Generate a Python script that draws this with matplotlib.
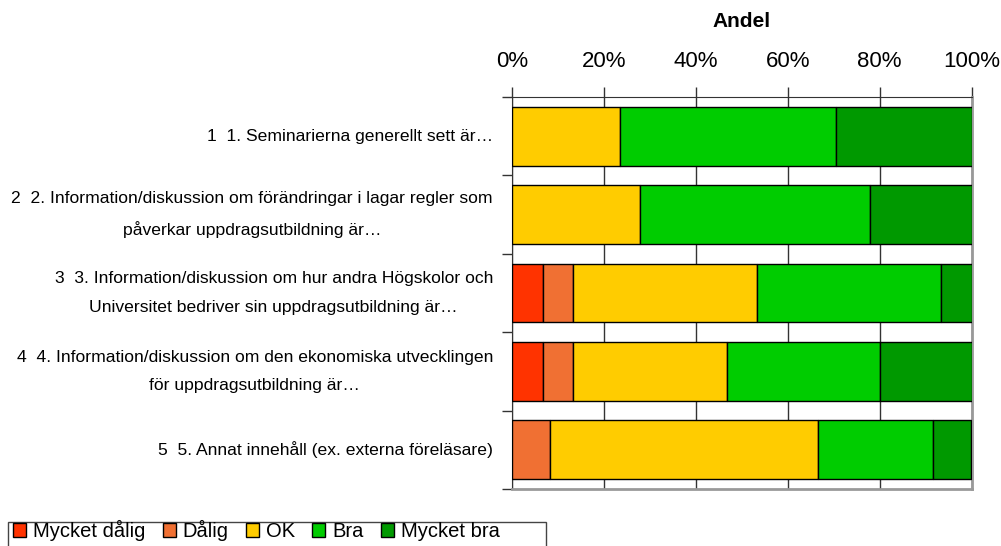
#!/usr/bin/env python3

import numpy as np
from matplotlib import pyplot as plt
from matplotlib.patches import Patch, Rectangle

# kategorier och andelar (i procent) per svarsalternativ
categories = [
    '1  1. Seminarierna generellt sett är…',
    '2  2. Information/diskussion om förändringar i lagar regler som\npåverkar uppdragsutbildning är…',
    '3  3. Information/diskussion om hur andra Högskolor och\nUniversitet bedriver sin uppdragsutbildning är…',
    '4  4. Information/diskussion om den ekonomiska utvecklingen\nför uppdragsutbildning är…',
    '5  5. Annat innehåll (ex. externa föreläsare)',
]
series_names = ['Mycket dålig', 'Dålig', 'OK', 'Bra', 'Mycket bra']
mycket_dalig = [0.0, 0.0, 6.7, 6.7, 0.0]
dalig = [0.0, 0.0, 6.7, 6.7, 8.3]
ok = [23.5, 27.8, 40.0, 33.3, 58.3]
bra = [47.1, 50.0, 40.0, 33.3, 25.0]
mycket_bra = [29.4, 22.2, 6.7, 20.0, 8.3]
colors = ['#FF3300', '#F07033', '#FFCC00', '#00CC00', '#009900']
xticks = [0, 20, 40, 60, 80, 100]
xticklabels = ['0%', '20%', '40%', '60%', '80%', '100%']


def main():
    fig = plt.figure(figsize=(10.01, 5.46), dpi=100)
    ax = fig.add_axes([0.5112, 0.1044, 0.4595, 0.7179])

    ys = np.arange(len(categories))
    left = np.zeros(len(categories))
    for name, vals, c in zip(series_names,
                             [mycket_dalig, dalig, ok, bra, mycket_bra], colors):
        vals = np.array(vals)
        ax.barh(ys, vals, left=left, height=0.75, color=c, edgecolor='black',
                linewidth=1, zorder=3, label=name)
        left += vals

    ax.set_xlim(0, 100)
    ax.set_ylim(4.5, -0.5)

    ax.xaxis.tick_top()
    ax.xaxis.set_label_position('top')
    ax.set_xticks(xticks)
    ax.set_xticklabels(xticklabels, fontsize=16, family='Liberation Sans')
    ax.tick_params(axis='x', direction='out', length=7, width=1,
                   color='#333333', pad=11)
    ax.set_xlabel('Andel', fontsize=15, fontweight='bold',
                  family='Liberation Sans', labelpad=17)
    ax.xaxis.grid(True, color='#333333', linewidth=1, zorder=0)

    ax.set_yticks(ys)
    ax.set_yticklabels(categories, fontsize=12.6, family='Liberation Sans',
                       multialignment='center', linespacing=2.12, va='center')
    ax.set_yticks(np.arange(-0.5, len(categories)), minor=True)
    ax.tick_params(axis='y', which='major', length=0, pad=13.5)
    ax.tick_params(axis='y', which='minor', length=7, width=1,
                   color='#333333', direction='out')

    ax.spines['left'].set_color('#333333')
    ax.spines['top'].set_color('#333333')
    ax.spines['right'].set_color('#999999')
    ax.spines['right'].set_linewidth(2)
    ax.spines['bottom'].set_color('#999999')
    ax.spines['bottom'].set_linewidth(2)

    # legend nere till vänster, med egen ram
    handles = [Patch(facecolor=c, edgecolor='black', linewidth=1) for c in colors]
    fig.legend(handles, series_names, loc='upper left',
               bbox_to_anchor=(0.013, 1 - 520 / 546), borderaxespad=0,
               ncol=5, prop={'family': 'Liberation Sans', 'size': 14.5},
               handlelength=0.65, handleheight=0.65, handletextpad=0.35,
               columnspacing=0.85, borderpad=0, frameon=False)
    fig.patches.append(Rectangle((8 / 1001, -0.02), 538 / 1001, 0.02 + 24.3 / 546,
                                 transform=fig.transFigure, fill=False,
                                 edgecolor='#444444', linewidth=1))

    plt.savefig('out.png', dpi=100)
    plt.clf()


if __name__ == '__main__':
    main()
